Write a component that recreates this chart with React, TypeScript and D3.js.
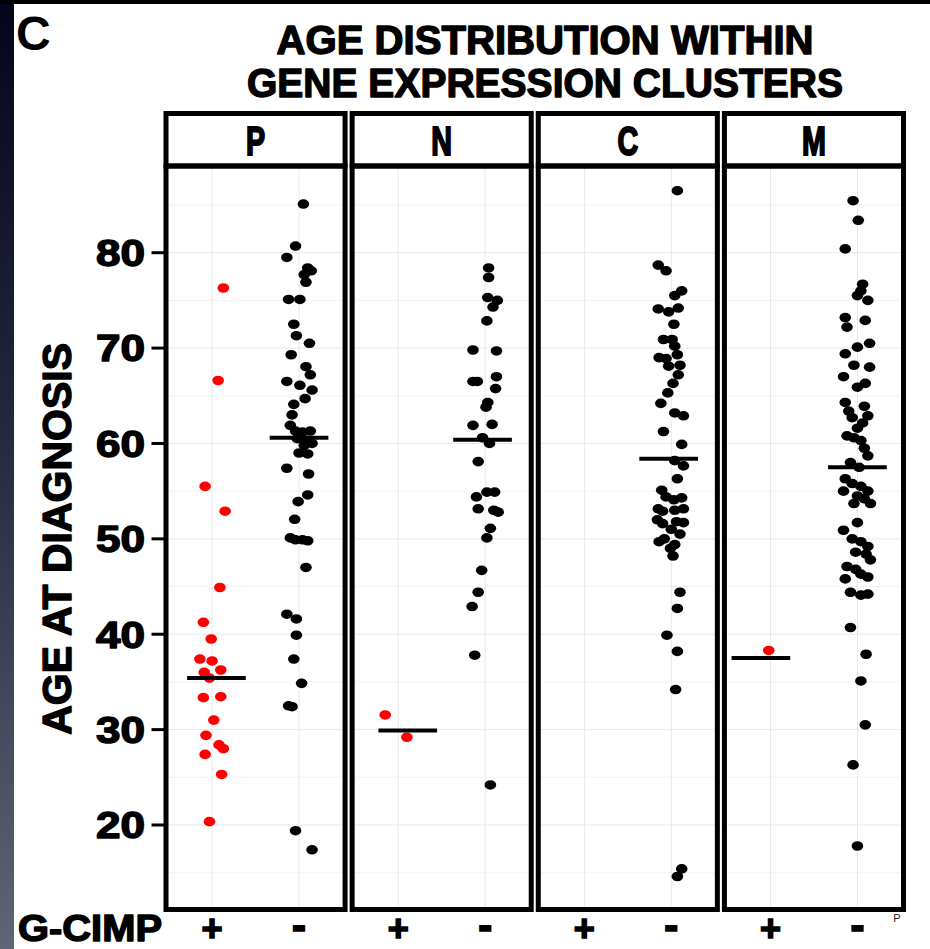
import React from 'react';
import * as d3 from 'd3';

// ---------- data ----------
const clusters = ['P', 'N', 'C', 'M'];
const groups = ['+', '-'];
const yTicks = [20, 30, 40, 50, 60, 70, 80];
const yMinor = [15, 25, 35, 45, 55, 65, 75, 85];

// G-CIMP positive (red)
const ageP_pos = [76.3, 66.6, 55.5, 52.9, 44.9, 41.25, 39.5, 37.4, 37.2, 36.0, 36.25, 35.4, 33.35, 33.45, 31.0, 29.4, 28.4, 28.0, 27.4, 25.3, 20.35];
const jitP_pos = [0.13, 0.07, -0.08, 0.15, 0.09, -0.1, -0.01, -0.14, 0.0, -0.09, 0.1, -0.03, -0.1, 0.1, 0.02, -0.07, 0.08, 0.13, -0.08, 0.11, -0.03];
const ageN_pos = [31.54, 29.2];
const jitN_pos = [-0.15, 0.1];
const ageC_pos: number[] = [];
const jitC_pos: number[] = [];
const ageM_pos = [38.3];
const jitM_pos = [-0.02];

// G-CIMP negative (black)
const ageP_neg = [85.1, 80.7, 79.5, 78.4, 78.1, 77.7, 76.9, 75.1, 75.1, 72.5, 71.3, 70.5, 69.3, 68.05, 67.2, 66.5, 66.1, 65.6, 64.7, 64.1, 63.0, 61.9, 61.3, 61.2, 61.3, 60.5, 60.3, 59.8, 60.0, 59.0, 58.9, 57.4, 56.8, 54.6, 53.9, 52.05, 50.1, 49.9, 49.9, 49.8, 47.0, 42.1, 41.6, 39.9, 37.4, 34.85, 32.5, 32.4, 19.4, 17.4];
const jitP_neg = [0.05, -0.04, -0.14, 0.1, 0.14, 0.06, 0.08, -0.12, 0.01, -0.06, -0.03, 0.12, -0.09, 0.08, 0.13, -0.14, 0.01, 0.15, 0.07, -0.06, -0.08, -0.1, -0.04, 0.04, 0.13, -0.02, 0.1, 0.06, 0.15, 0.0, 0.1, -0.14, 0.11, 0.1, -0.01, -0.05, -0.1, -0.04, 0.04, 0.1, 0.08, -0.14, -0.03, -0.03, -0.06, 0.03, -0.12, -0.08, -0.04, 0.15];
const ageN_neg = [78.4, 77.4, 75.3, 75.0, 74.3, 72.85, 69.8, 69.7, 66.5, 66.5, 67.0, 65.75, 64.3, 63.8, 61.9, 62.0, 60.6, 60.0, 58.1, 54.9, 54.9, 54.4, 53.15, 53.0, 52.8, 51.1, 50.1, 46.7, 44.4, 42.9, 37.8, 24.2];
const jitN_neg = [0.04, 0.04, 0.03, 0.14, 0.09, 0.02, -0.14, 0.13, -0.14, -0.09, 0.13, 0.12, 0.03, 0.01, -0.14, 0.08, -0.03, 0.05, -0.08, 0.02, 0.11, -0.1, -0.08, 0.1, 0.15, 0.06, 0.02, -0.04, -0.08, -0.15, -0.12, 0.06];
const ageC_neg = [86.5, 78.7, 78.1, 76.0, 75.5, 74.1, 73.8, 74.2, 72.5, 70.9, 70.9, 70.2, 69.0, 68.9, 69.3, 68.1, 68.2, 67.2, 66.3, 65.3, 64.2, 63.2, 62.9, 61.25, 59.9, 58.2, 57.65, 56.3, 55.1, 54.4, 54.3, 54.1, 53.15, 52.9, 53.0, 53.15, 52.0, 51.6, 51.8, 51.7, 51.0, 50.5, 49.7, 50.0, 49.0, 49.4, 48.2, 44.4, 42.7, 39.9, 38.2, 34.2, 15.4, 14.6];
const jitC_neg = [0.07, -0.15, -0.06, 0.12, 0.04, -0.15, -0.03, 0.08, 0.03, -0.09, 0.01, 0.04, -0.14, -0.06, 0.07, -0.03, 0.1, 0.08, 0.02, -0.04, -0.12, 0.04, 0.14, -0.09, 0.12, 0.04, 0.14, 0.07, -0.11, -0.06, 0.12, 0.03, -0.15, -0.1, 0.04, 0.14, -0.16, -0.1, 0.06, 0.14, 0.0, 0.1, -0.14, -0.08, -0.01, 0.04, 0.02, 0.1, 0.07, -0.05, 0.07, 0.05, 0.12, 0.07];
const ageM_neg = [85.45, 83.4, 80.4, 76.7, 76.0, 75.5, 75.0, 73.2, 72.2, 72.9, 70.5, 70.1, 69.4, 68.2, 68.0, 67.0, 66.3, 65.9, 64.3, 63.9, 62.9, 63.4, 62.7, 62.15, 61.6, 60.8, 60.6, 60.3, 59.5, 58.7, 58.0, 57.5, 56.3, 55.0, 55.8, 55.5, 55.0, 53.7, 54.5, 54.2, 53.7, 51.7, 50.9, 50.0, 49.7, 49.2, 48.6, 48.4, 47.8, 47.1, 46.8, 46.3, 46.0, 45.8, 44.4, 44.1, 44.2, 40.7, 37.9, 35.1, 30.5, 26.3, 17.8];
const jitM_neg = [-0.05, 0.01, -0.14, 0.06, 0.04, 0.0, 0.12, -0.14, -0.12, 0.09, 0.14, 0.0, -0.14, -0.04, 0.14, -0.16, 0.09, 0.0, -0.14, 0.08, 0.12, -0.1, -0.06, 0.06, 0.0, -0.12, -0.04, 0.04, 0.08, 0.12, -0.08, 0.02, -0.14, -0.16, -0.06, 0.04, 0.12, 0.15, 0.0, 0.08, -0.04, 0.0, -0.16, -0.06, 0.04, 0.12, -0.02, 0.1, 0.15, -0.12, -0.02, 0.04, 0.12, -0.14, -0.08, 0.04, 0.12, -0.08, 0.1, 0.04, 0.09, -0.05, 0.0];

// medians (crossbars) per cluster
const medianPos = [35.4, 29.9, NaN, 37.5];
const medianNeg = [60.6, 60.4, 58.4, 57.5];
const barShiftPos = [0.05, 0.11, 0, -0.11];
const barShiftNeg = [0, -0.03, -0.03, 0];

const agesPos = [ageP_pos, ageN_pos, ageC_pos, ageM_pos];
const jitsPos = [jitP_pos, jitN_pos, jitC_pos, jitM_pos];
const agesNeg = [ageP_neg, ageN_neg, ageC_neg, ageM_neg];
const jitsNeg = [jitP_neg, jitN_neg, jitC_neg, jitM_neg];

const FONT = "'Liberation Sans', Arial, Helvetica, sans-serif";

export default function App() {
  const W = 930, H = 949;
  const stripTop = 113.5, bodyTop = 166, bodyBottom = 909.5;
  const bw = 5;

  const panelScale = d3.scaleBand<string>().domain(clusters).range([163.5, 906]).paddingInner(0.011).paddingOuter(0);
  const y = d3.scaleLinear().domain([20, 80]).range([825, 252.7]);

  const colorFor: Record<string, string> = { '+': '#ff0000', '-': '#000000' };
  const heavy = { stroke: '#000', strokeWidth: 1.4, strokeLinejoin: 'round' as const };

  return (
    <svg width={W} height={H} style={{ position: 'absolute', left: 0, top: 0, display: 'block' }} xmlns="http://www.w3.org/2000/svg">
      <defs>
        <linearGradient id="leftStrip" x1="0" y1="0" x2="0" y2="1">
          <stop offset="0" stopColor="#04051a" />
          <stop offset="0.45" stopColor="#23283d" />
          <stop offset="1" stopColor="#5f6476" />
        </linearGradient>
      </defs>
      <rect x={0} y={0} width={W} height={H} fill="#ffffff" />
      <rect x={0} y={0} width={14} height={H} fill="url(#leftStrip)" />
      <rect x={0} y={0} width={W} height={4} fill="#000000" />

      {/* panel letter */}
      <text x={16} y={50} fontFamily={FONT} fontWeight="bold" fontSize={48} fill="#000">C</text>

      {/* title */}
      <text x={545} y={54} textAnchor="middle" fontFamily={FONT} fontWeight="bold" fontSize={40} textLength={537}
        lengthAdjust="spacingAndGlyphs" fill="#000" {...heavy}>AGE DISTRIBUTION WITHIN</text>
      <text x={545} y={97} textAnchor="middle" fontFamily={FONT} fontWeight="bold" fontSize={40} textLength={596}
        lengthAdjust="spacingAndGlyphs" fill="#000" {...heavy}>GENE EXPRESSION CLUSTERS</text>

      {clusters.map((c, ci) => {
        const b0 = panelScale(c)!;
        const b1 = b0 + panelScale.bandwidth();
        const x0 = b0 + bw / 2, x1 = b1 - bw / 2;
        const xs = d3.scalePoint<string>().domain(groups).range([x0, x1]).padding(0.53);
        const step = xs.step();
        const cx = (x0 + x1) / 2;
        const pts: { x: number; y: number; g: string }[] = [];
        agesPos[ci].forEach((a, i) => pts.push({ x: xs('+')! + jitsPos[ci][i] * step, y: y(a), g: '+' }));
        agesNeg[ci].forEach((a, i) => pts.push({ x: xs('-')! + jitsNeg[ci][i] * step, y: y(a), g: '-' }));
        const barLen = step * 0.675;
        return (
          <g key={c}>
            {/* gridlines */}
            {yMinor.map(t => (
              <line key={'mi' + t} x1={x0} x2={x1} y1={y(t)} y2={y(t)} stroke="#f3f3f3" strokeWidth={1} />
            ))}
            {yTicks.map(t => (
              <line key={'ma' + t} x1={x0} x2={x1} y1={y(t)} y2={y(t)} stroke="#e8e8e8" strokeWidth={1} />
            ))}
            {groups.map(g => (
              <line key={'v' + g} x1={xs(g)!} x2={xs(g)!} y1={bodyTop} y2={bodyBottom} stroke="#e8e8e8" strokeWidth={1} />
            ))}
            {/* points */}
            {pts.map((p, i) => (
              <ellipse key={i} cx={p.x} cy={p.y} rx={5.8} ry={4.8} fill={colorFor[p.g]} />
            ))}
            {/* median crossbars */}
            {!isNaN(medianPos[ci]) && (
              <line x1={xs('+')! + barShiftPos[ci] * step - barLen / 2} x2={xs('+')! + barShiftPos[ci] * step + barLen / 2}
                y1={y(medianPos[ci])} y2={y(medianPos[ci])} stroke="#000" strokeWidth={4} />
            )}
            <line x1={xs('-')! + barShiftNeg[ci] * step - barLen / 2} x2={xs('-')! + barShiftNeg[ci] * step + barLen / 2}
              y1={y(medianNeg[ci])} y2={y(medianNeg[ci])} stroke="#000" strokeWidth={4} />
            {/* frames */}
            <rect x={x0} y={stripTop} width={x1 - x0} height={bodyTop - stripTop} fill="none" stroke="#000" strokeWidth={bw} />
            <rect x={x0} y={bodyTop} width={x1 - x0} height={bodyBottom - bodyTop} fill="none" stroke="#000" strokeWidth={bw} />
            {/* strip label */}
            <text x={cx} y={155} textAnchor="middle" fontFamily={FONT} fontWeight="bold" fontSize={41}
              transform={`translate(${cx},0) scale(0.7,1) translate(${-cx},0)`} fill="#000" stroke="#000" strokeWidth={2}>{c}</text>
            {/* bottom group labels */}
            {groups.map(g => (
              <text key={'b' + g} x={xs(g)!} y={g === '+' ? 941 : 940} textAnchor="middle" fontFamily={FONT} fontWeight="bold"
                fontSize={g === '+' ? 36 : 42} fill="#000" stroke="#000" strokeWidth={1.6}>{g}</text>
            ))}
          </g>
        );
      })}

      {/* y axis */}
      {yTicks.map(t => (
        <g key={'yt' + t}>
          <line x1={151.5} x2={164} y1={y(t)} y2={y(t)} stroke="#000" strokeWidth={3} />
          <text x={145} y={y(t)} dy="0.36em" textAnchor="end" fontFamily={FONT} fontWeight="bold" fontSize={37}
            textLength={49} lengthAdjust="spacingAndGlyphs" fill="#000" {...heavy}>{t}</text>
        </g>
      ))}
      <text transform={`translate(71,${(y(20) + y(80)) / 2}) rotate(-90)`} textAnchor="middle" fontFamily={FONT}
        fontWeight="bold" fontSize={41} fill="#000" {...heavy}>AGE AT DIAGNOSIS</text>

      <text x={18} y={941} fontFamily={FONT} fontWeight="bold" fontSize={36} fill="#000" {...heavy}
        textLength={144} lengthAdjust="spacingAndGlyphs">G-CIMP</text>
      <text x={897} y={922} textAnchor="middle" fontFamily={FONT} fontSize={11} fill="#222">P</text>
    </svg>
  );
}
